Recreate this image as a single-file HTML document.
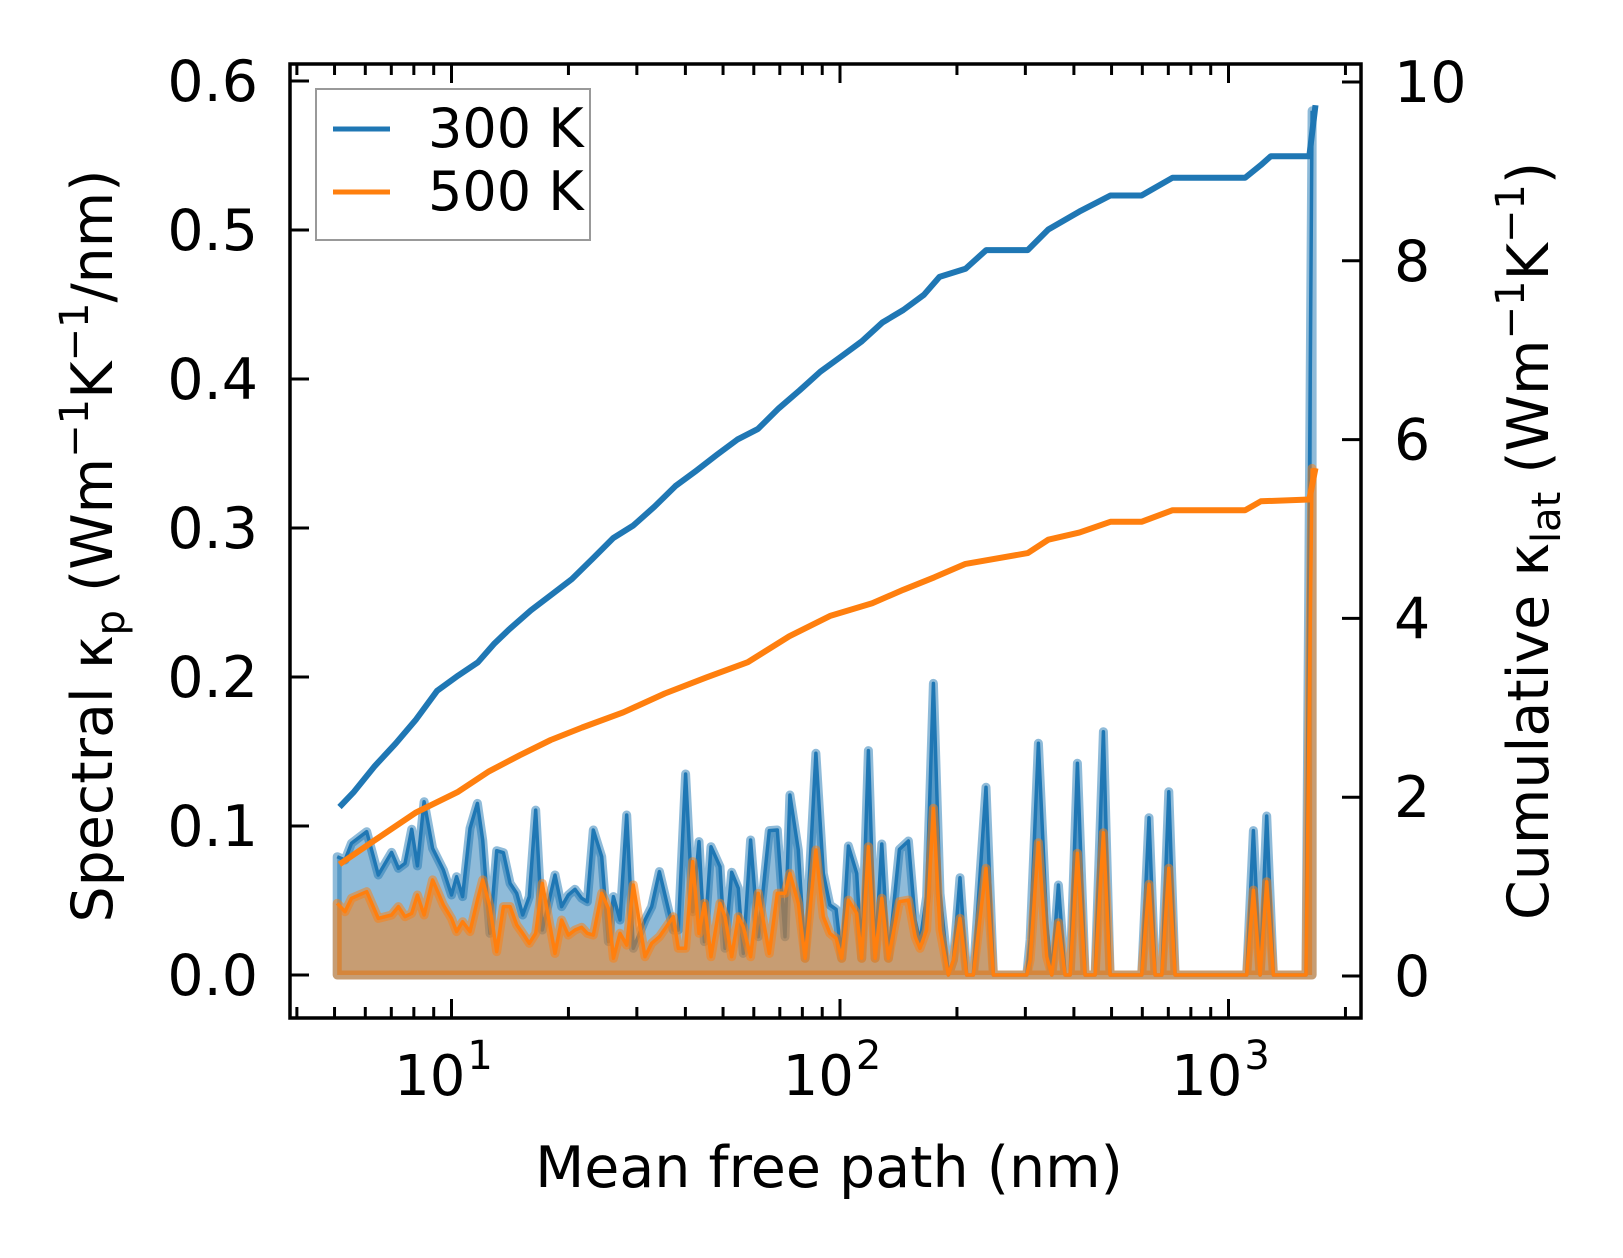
<!DOCTYPE html>
<html><head><meta charset="utf-8"><style>
html,body{margin:0;padding:0;background:#fff;}
svg{display:block;font-family:"DejaVu Sans","Liberation Sans",sans-serif;}
</style></head><body>
<svg id="chart" width="1623" height="1258" viewBox="0 0 1623 1258" xmlns="http://www.w3.org/2000/svg"></svg>
<script>
// ---- data ----
const specX = [5.08,5.32,5.53,6.05,6.48,7.01,7.30,7.59,7.90,8.17,8.50,8.94,9.53,10.0,10.31,10.68,11.16,11.66,12.03,12.56,13.07,13.60,14.15,14.72,15.25,15.86,16.47,17.13,18.47,19.21,19.98,20.79,21.63,22.37,23.18,24.36,25.34,26.10,27.15,28.24,29.38,31.48,32.75,34.28,37.24,38.36,40.06,41.76,43.36,44.76,46.56,49.11,50.58,52.62,54.74,56.39,58.88,61.62,65.77,68.96,72.18,
74.3,78.1,81.3,86.7,90.6,94.2,97.7,101.0,105.1,110.4,113.7,118.3,123.1,128.1,133.2,142.2,150.0,156.1,160.7,167.1,173.9,180.9,190.1,195.8,203.7,211.9,220.4,237.6,248.2,302.5,308.5,324.1,340.5,350.8,364.9,379.6,391.1,408.5,427.5,453.6,476.4,495.7,597.7,624.4,647.2,673.3,701.9,728.7,1114,1159,1206,1254,1305,1441,1583,1641];
const spec300 = [0.0794,0.0772,0.0884,0.0962,0.0671,0.0823,0.0716,0.0749,0.0978,0.0732,0.1163,0.0850,0.0705,0.0537,0.066,0.0526,0.0984,0.1152,0.0906,0.028,0.0834,0.0821,0.0615,0.0548,0.0403,0.0526,0.1107,0.0302,0.0671,0.0459,0.0537,0.0575,0.0515,0.0492,0.0973,0.0794,0.0224,0.0526,0.0369,0.1074,0.0179,0.0369,0.0459,0.0694,0.0302,0.0302,0.1349,0.0425,0.0895,0.0224,0.0861,0.0727,0.0179,0.0689,0.0582,0.0145,0.0906,0.0257,0.0969,0.0973,0.0257,
0.1208,0.0839,0.0112,0.1488,0.0682,0.047,0.0441,0.0112,0.0866,0.0682,0.0112,0.1506,0.0112,0.0879,0.0112,0.0843,0.0899,0.0369,0.0224,0.0526,0.1957,0.0548,0,0.0101,0.0653,0,0,0.126,0,0,0.0235,0.1555,0.0347,0,0.0604,0,0,0.1421,0,0,0.1633,0,0,0.1056,0,0,0.123,0,0,0.0969,0,0.1067,0,0,0,0.58];
const spec500 = [0.0481,0.0425,0.0515,0.0559,0.038,0.0403,0.0459,0.0391,0.0414,0.0537,0.0403,0.0638,0.047,0.038,0.0291,0.0358,0.0291,0.0503,0.0638,0.0459,0.0157,0.0459,0.0459,0.0336,0.028,0.0213,0.028,0.0615,0.0145,0.0369,0.0268,0.0302,0.032,0.028,0.0268,0.0548,0.0447,0.0112,0.028,0.0201,0.0604,0.0123,0.0213,0.0257,0.0391,0.0179,0.0179,0.0761,0.028,0.0481,0.0123,0.0481,0.0391,0.0123,0.0391,0.0324,0.0123,0.0548,0.0145,0.0548,0.0548,
0.0682,0.0481,0.0112,0.0839,0.0391,0.028,0.0246,0.0112,0.0503,0.0414,0.0112,0.0861,0.0112,0.0515,0.0112,0.0492,0.0503,0.0257,0.0179,0.0302,0.1119,0.0302,0,0.0101,0.038,0,0,0.0716,0,0,0.0101,0.0888,0.0123,0,0.0351,0,0,0.0817,0,0,0.0955,0,0,0.0609,0,0,0.0716,0,0,0.057,0,0.0626,0,0,0,0.34];
const cum300X = [5.15,5.61,6.35,7.18,8.11,9.18,10.4,11.7,12.9,14.1,16.0,18.0,20.4,23.1,26.1,29.4,33.3,37.7,42.6,48.2,54.4,61.5,69.6,78.7,89.0,100.7,113.8,128.6,145.5,164.4,180.3,210.4,237.8,304.1,343.6,413.0,496.6,597.0,717.8,1104,1211,1285,1614,1675];
const cum300 = [1.89,2.06,2.35,2.6,2.87,3.19,3.36,3.51,3.72,3.88,4.09,4.26,4.44,4.67,4.90,5.04,5.25,5.48,5.65,5.83,6.0,6.12,6.35,6.55,6.76,6.93,7.1,7.31,7.45,7.62,7.82,7.91,8.12,8.12,8.35,8.55,8.73,8.73,8.93,8.93,9.07,9.17,9.17,9.74];
const cum500X = [5.15,6.35,8.11,10.4,12.5,15.0,18.0,21.7,27.7,35.4,45.3,57.9,74.0,94.6,121.0,145.5,175.0,210.4,304.1,343.6,413.0,496.6,597.0,717.8,1104,1211,1614,1675];
const cum500 = [1.25,1.52,1.83,2.06,2.29,2.47,2.64,2.78,2.95,3.16,3.34,3.51,3.80,4.03,4.17,4.32,4.46,4.61,4.73,4.88,4.96,5.08,5.08,5.21,5.21,5.31,5.33,5.68];
const leftTicks = [0.0,0.1,0.2,0.3,0.4,0.5,0.6];
const leftTickLabels = ["0.0","0.1","0.2","0.3","0.4","0.5","0.6"];
const rightTicks = [0,2,4,6,8,10];
const xMajor = [1,2,3];

// ---- axes ----
const L=290,R=1361,T=64,B=1018;
const xMin=Math.log10(3.84), xMax=Math.log10(2193);
function sx(v){return L+(Math.log10(v)-xMin)/(xMax-xMin)*(R-L);}
function syL(v){return 975-v*1490;}
function syR(v){return 976-v*89.4;}
const NS="http://www.w3.org/2000/svg";
const svg=document.getElementById('chart');
function el(tag,attrs,parent){const e=document.createElementNS(NS,tag);for(const k in attrs)e.setAttribute(k,attrs[k]);(parent||svg).appendChild(e);return e;}

const gData=el('g',{});



function areaPath(xs,ys){let d='M'+sx(xs[0]).toFixed(1)+','+syL(0).toFixed(1);for(let i=0;i<xs.length;i++)d+=' L'+sx(xs[i]).toFixed(1)+','+syL(ys[i]).toFixed(1);d+=' L'+sx(xs[xs.length-1]).toFixed(1)+','+syL(0).toFixed(1)+' Z';return d;}
function linePath(xs,ys,f){let d='';for(let i=0;i<xs.length;i++)d+=(i?' L':'M')+sx(xs[i]).toFixed(1)+','+f(ys[i]).toFixed(1);return d;}

const a3=el('path',{d:areaPath(specX,spec300),fill:'rgba(31,119,180,0.5)',stroke:'rgba(31,119,180,0.5)','stroke-width':9,'stroke-linejoin':'round'},gData);


const l3=el('path',{d:linePath(specX,spec300,syL),fill:'none',stroke:'#1f77b4','stroke-width':3.5,'stroke-linejoin':'round'},gData);


const a5=el('path',{d:areaPath(specX,spec500),fill:'rgba(255,127,14,0.5)',stroke:'rgba(255,127,14,0.5)','stroke-width':9,'stroke-linejoin':'round'},gData);


const l5=el('path',{d:linePath(specX,spec500,syL),fill:'none',stroke:'#ff7f0e','stroke-width':3.5,'stroke-linejoin':'round'},gData);


const c3=el('path',{d:linePath(cum300X,cum300,syR),fill:'none',stroke:'#1f77b4','stroke-width':6,'stroke-linejoin':'round'},gData);


const c5=el('path',{d:linePath(cum500X,cum500,syR),fill:'none',stroke:'#ff7f0e','stroke-width':6,'stroke-linejoin':'round'},gData);



// frame
const frame=el('rect',{x:L,y:T,width:R-L,height:B-T,fill:'none',stroke:'#000','stroke-width':3.5});



// x ticks
const gx=el('g',{stroke:'#000','stroke-width':3});


for(let e=0;e<=3;e++){for(let m=1;m<=9;m++){const v=m*Math.pow(10,e);if(v<3.84||v>2193)continue;const x=sx(v);const len=(m===1)?19:11;
 el('line',{x1:x,y1:B,x2:x,y2:B-len},gx);el('line',{x1:x,y1:T,x2:x,y2:T+len},gx);}}
xMajor.forEach(e=>{const t=el('text',{x:sx(Math.pow(10,e))-8,y:1095,'font-size':56,'text-anchor':'middle',fill:'#000'});
 
 
 t.textContent='10';const s=el('tspan',{'font-size':40,dy:-26,dx:2},t);s.textContent=String(e);});

// left ticks
const gy=el('g',{stroke:'#000','stroke-width':3});


leftTicks.forEach((v,i)=>{const y=syL(v);el('line',{x1:L,y1:y,x2:L+19,y2:y},gy);
 const t=el('text',{x:258,y:y+20,'font-size':57,'text-anchor':'end',fill:'#000'});
 
 
 t.textContent=leftTickLabels[i];});
// right ticks
const gr=el('g',{stroke:'#000','stroke-width':3});


rightTicks.forEach(v=>{const y=syR(v);el('line',{x1:R,y1:y,x2:R-19,y2:y},gr);
 const t=el('text',{x:1394,y:y+20,'font-size':57,'text-anchor':'start',fill:'#000'});
 
 
 t.textContent=String(v);});

svg.insertAdjacentHTML('beforeend',
`<g>
<rect x="316" y="89" width="274" height="151" fill="#fff" fill-opacity="0.8" stroke="#999" stroke-width="2"/>
<line x1="333" y1="129" x2="390" y2="129" stroke="#1f77b4" stroke-width="5"/>
<text x="428" y="147" font-size="54">300 K</text>
<line x1="333" y1="192" x2="390" y2="192" stroke="#ff7f0e" stroke-width="5"/>
<text x="428" y="210" font-size="54">500 K</text>
</g>
<text x="829" y="1187" font-size="57" text-anchor="middle">Mean free path (nm)</text>
<text transform="translate(112,546) rotate(-90)" font-size="57" text-anchor="middle">Spectral κ<tspan font-size="40" dy="12">p</tspan><tspan dy="-12"> (Wm</tspan><tspan font-size="40" dy="-24">−1</tspan><tspan dy="24">K</tspan><tspan font-size="40" dy="-24">−1</tspan><tspan dy="24">/nm)</tspan></text>
<text transform="translate(1548,541) rotate(-90)" font-size="57" text-anchor="middle">Cumulative κ<tspan font-size="40" dy="12">lat</tspan><tspan dy="-12"> (Wm</tspan><tspan font-size="40" dy="-24">−1</tspan><tspan dy="24">K</tspan><tspan font-size="40" dy="-24">−1</tspan><tspan dy="24">)</tspan></text>`);
</script>
</body></html>
